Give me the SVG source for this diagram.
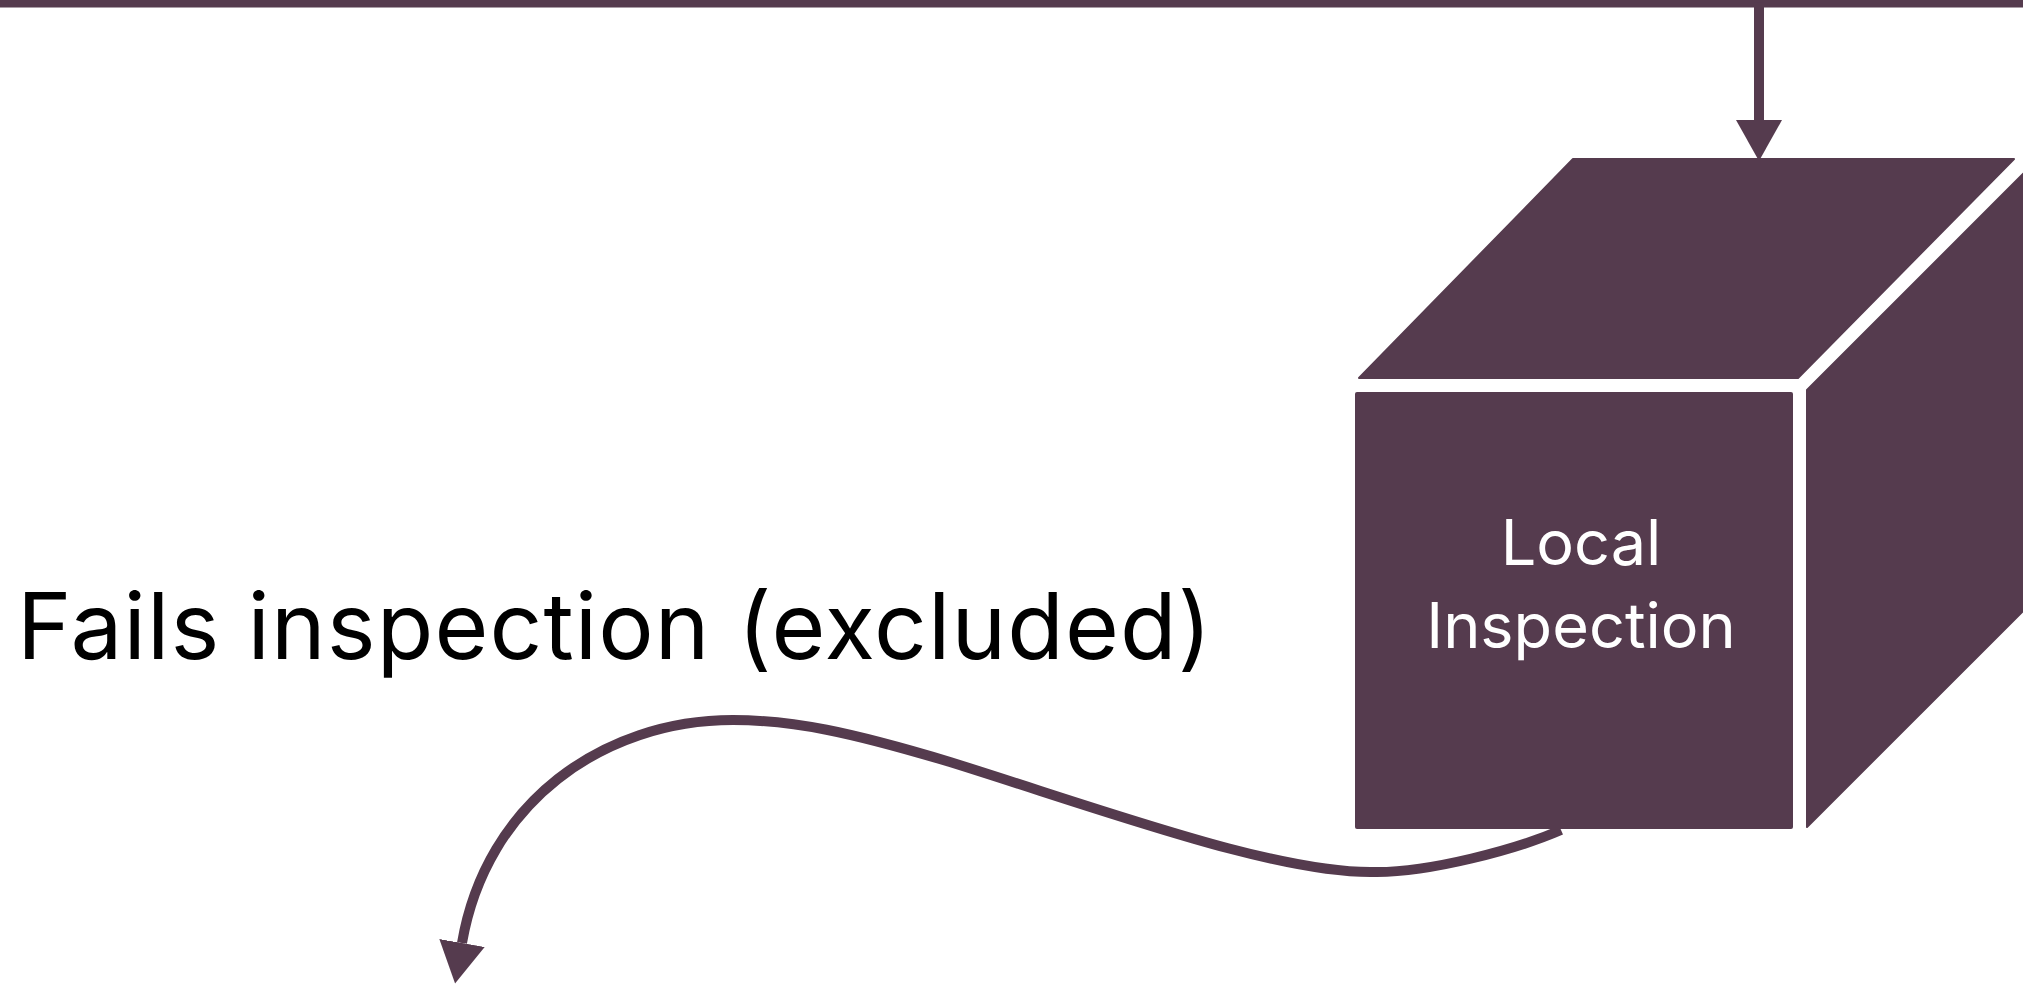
<svg xmlns="http://www.w3.org/2000/svg" width="2023" height="994" viewBox="0 0 2023 994">
  <style>
    .shape { fill: #553B4E; }
    .conn { fill: none; stroke: #553B4E; stroke-width: 10; }
    .label { font-family: Inter, Roboto, "Liberation Sans", sans-serif; }
    .nodeText { fill: #ffffff; font-size: 63px; text-anchor: middle; }
    .edgeText { fill: #000000; font-size: 92.5px; letter-spacing: 1.1px; }
  </style>
  <defs>
    <marker id="arrow" markerUnits="userSpaceOnUse" markerWidth="42" markerHeight="46" viewBox="0 0 42 46" refX="0" refY="23" orient="auto">
      <path d="M0,0 L41,23 L0,46 Z" fill="#553B4E"/>
    </marker>
  </defs>
  <rect width="2023" height="994" fill="#ffffff"/>

  <g id="connectors">
    <path class="conn" d="M0,2.5 H2023"/>
    <path class="conn" d="M1759,2.5 V120" marker-end="url(#arrow)"/>
    <path class="conn" d="M1561,830 C1515,850 1430,872 1377,872 C1280,875 1110,812 950,762 C850,732 793,720 733,720 C603,720 486,803 462,943" marker-end="url(#arrow)"/>
  </g>

  <g id="local-inspection">
    <path class="shape" d="M1573,159 H2014 L1798,378 H1359 Z" stroke="#553B4E" stroke-width="2" stroke-linejoin="round"/>
    <rect class="shape" x="1355" y="392" width="438" height="437" rx="2"/>
    <path class="shape" d="M1807,827 V390 L2030,167 V604 Z" stroke="#553B4E" stroke-width="2" stroke-linejoin="round"/>
    <text class="label nodeText" x="1581" y="565">Local</text>
    <text class="label nodeText" x="1581" y="648">Inspection</text>
  </g>

  <g id="edge-label">
    <text class="label edgeText" x="17" y="659">Fails inspection (excluded)</text>
  </g>
</svg>
